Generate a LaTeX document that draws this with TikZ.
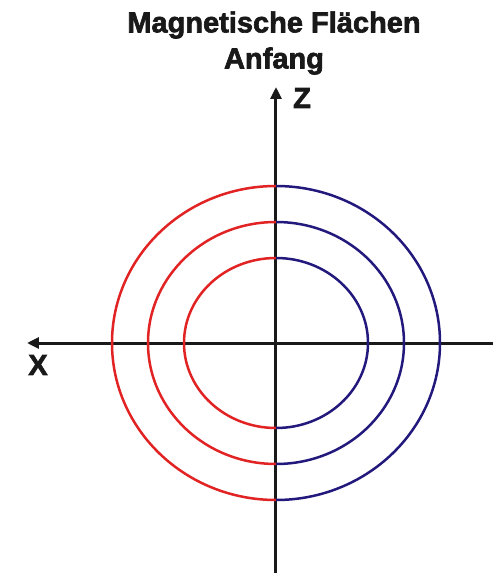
\documentclass[tikz,border=0pt]{standalone}
\usepackage{fontspec}
\setmainfont{Liberation Sans}
\newfontfamily\heavyfont[FakeBold=2.2]{Liberation Sans Bold}
\usetikzlibrary{arrows.meta}

\definecolor{redfield}{RGB}{225,35,35}
\definecolor{bluefield}{RGB}{35,25,125}

\begin{document}
\begin{tikzpicture}[
  x=1pt, y=1pt,
  axis/.style={-{Triangle[length=12pt, width=11pt]}, line width=3pt, black!90},
  west/.style={redfield, line width=2.5pt},
  east/.style={bluefield, line width=2.5pt},
  label/.style={font=\fontsize{29}{36}\selectfont\heavyfont, text=black!90}
]
\useasboundingbox (-276,-230) rectangle (217,343);

% Axes
\coordinate (xs) at (217,0);
\coordinate (xe) at (-249,0);
\coordinate (zs) at (0,-230);
\coordinate (ze) at (0,256);
\draw[axis] (xs) -- (xe);
\draw[axis] (zs) -- (ze);
\node[label] (xlab) at (-238,-22) {X};
\node[label] (zlab) at (26,245) {Z};

% Flux surfaces (left half red, right half blue)
\foreach \rx/\ry in {164/157, 128/121, 92/85} {
  \draw[west] (0,\ry) arc[start angle=90, end angle=270, x radius=\rx, y radius=\ry];
  \draw[east] (0,\ry) arc[start angle=90, end angle=-90, x radius=\rx, y radius=\ry];
}

% Title
\node[label, align=center] (title) at (-2,300) {Magnetische Flächen\\Anfang};

\end{tikzpicture}
\end{document}
